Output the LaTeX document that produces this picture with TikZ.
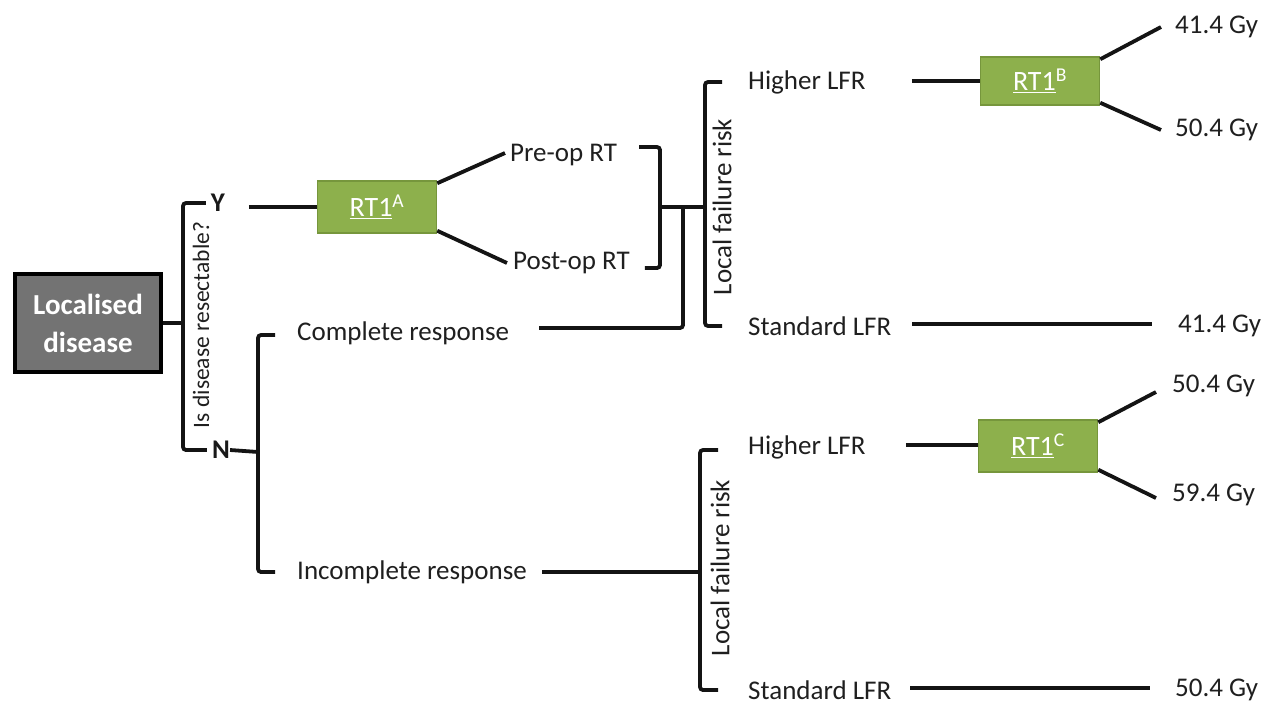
\documentclass[tikz,border=0pt]{standalone}
\usepackage{fontspec}
\setmainfont{Carlito}
\begin{document}
\begin{tikzpicture}[x=1pt,y=-1pt,
  wire/.style={line width=3.8pt,draw=black!92,rounded corners=3pt},
  lbl/.style={inner sep=0pt,anchor=west,text=black!88,font=\fontsize{27}{32}\selectfont},
  yn/.style={inner sep=0pt,text=black!90,font=\fontsize{27}{32}\selectfont\bfseries},
  side/.style={inner sep=0pt,rotate=90,text=black!88},
  rtbox/.style={draw=rtedge,line width=1.5pt,fill=rtgreen,minimum width=119pt,minimum height=52pt,inner sep=0pt,text=white,font=\fontsize{28}{32}\selectfont},
  startbox/.style={draw=black,line width=3.6pt,fill=black!55,minimum width=146pt,minimum height=98pt,inner sep=0pt,align=center,text=white,font=\fontsize{29}{38}\selectfont\bfseries}]
\definecolor{rtgreen}{HTML}{8DB04C}
\definecolor{rtedge}{HTML}{76963C}
\useasboundingbox (0,0) rectangle (1272,704);

% starting box and first question
\node[startbox] (ld) at (88,323) {Localised\\disease};
\node[yn] (Y) at (218,203) {Y};
\node[yn] (N) at (221,450) {N};
\node[side,font=\fontsize{23.5}{28}\selectfont] (q) at (201,325) {Is disease resectable?};
\coordinate (b1) at (183,323);
\draw[wire] (ld.east) -- (b1);
\draw[wire] ([xshift=-5pt]Y.west) -| (b1) |- ([xshift=-5pt]N.west);

% resectable branch
\node[rtbox] (rtA) at (377,207) {\underline{RT1}\textsuperscript{A}};
\draw[wire] ([xshift=-68pt]rtA.west) -- (rtA.west);
\node[lbl] (pre) at (510,155) {Pre-op RT};
\node[lbl] (post) at (513,263) {Post-op RT};
\draw[wire] ([yshift=-3pt]rtA.north east) -- ([xshift=-5pt,yshift=2pt]pre.west);
\draw[wire] ([yshift=3pt]rtA.south east) -- ([xshift=-6pt]post.west);
\coordinate (j1) at (660,207);
\coordinate (j2) at (683,207);
\coordinate (k1) at (705,207);
\draw[wire] ([xshift=22pt,yshift=8pt]pre.east) -| (j1) |- ([xshift=15pt,yshift=-5pt]post.east);
\draw[wire] (j1) -- (k1);

% non-resectable branch
\coordinate (m) at (258,452);
\node[lbl] (cr) at (297,333) {Complete response};
\node[lbl] (ir) at (297,572) {Incomplete response};
\draw[wire] (N.east) -- (m);
\draw[wire] ([xshift=-22pt,yshift=-2pt]cr.west) -| (m) |- ([xshift=-22pt]ir.west);
\draw[wire] ([xshift=30pt,yshift=5pt]cr.east) -| (j2);

% local failure risk after resection or complete response
\node[lbl] (hl1) at (748,82) {Higher LFR};
\node[lbl] (sl1) at (748,326) {Standard LFR};
\node[side,font=\fontsize{27}{32}\selectfont] (lf1) at (722,207) {Local failure risk};
\draw[wire] ([xshift=-26pt]hl1.west) -| (k1) |- ([xshift=-26pt]sl1.west);
\node[rtbox,minimum height=48pt] (rtB) at (1040,81) {\underline{RT1}\textsuperscript{B}};
\draw[wire] ([xshift=-68pt]rtB.west) -- (rtB.west);
\node[lbl] (d1) at (1175,27) {41.4 Gy};
\node[lbl] (d2) at (1175,130) {50.4 Gy};
\node[lbl] (d3) at (1178,326) {41.4 Gy};
\draw[wire] ([yshift=-3pt]rtB.north east) -- ([xshift=-14pt]d1.west);
\draw[wire] ([yshift=3pt]rtB.south east) -- ([xshift=-14pt]d2.west);
\draw[wire] ([xshift=164pt,yshift=2pt]sl1.west) -- ([xshift=-26pt,yshift=2pt]d3.west);

% local failure risk after incomplete response
\coordinate (k2) at (700,572);
\draw[wire] ([xshift=15pt]ir.east) -- (k2);
\node[lbl] (hl2) at (748,447) {Higher LFR};
\node[lbl] (sl2) at (748,690) {Standard LFR};
\node[side,font=\fontsize{27}{32}\selectfont] (lf2) at (720,568) {Local failure risk};
\draw[wire] ([xshift=-30pt,yshift=-3pt]hl2.west) -| (k2) |- ([xshift=-30pt]sl2.west);
\node[rtbox] (rtC) at (1038,446) {\underline{RT1}\textsuperscript{C}};
\draw[wire] ([xshift=-72pt,yshift=1pt]rtC.west) -- ([yshift=1pt]rtC.west);
\node[lbl] (d4) at (1172,386) {50.4 Gy};
\node[lbl] (d5) at (1172,495) {59.4 Gy};
\node[lbl] (d6) at (1175,690) {50.4 Gy};
\draw[wire] ([yshift=-3pt]rtC.north east) -- ([xshift=-16pt,yshift=-6pt]d4.west);
\draw[wire] ([yshift=3pt]rtC.south east) -- ([xshift=-16pt,yshift=-3pt]d5.west);
\draw[wire] ([xshift=162pt,yshift=2pt]sl2.west) -- ([xshift=-25pt,yshift=2pt]d6.west);
\end{tikzpicture}
\end{document}
